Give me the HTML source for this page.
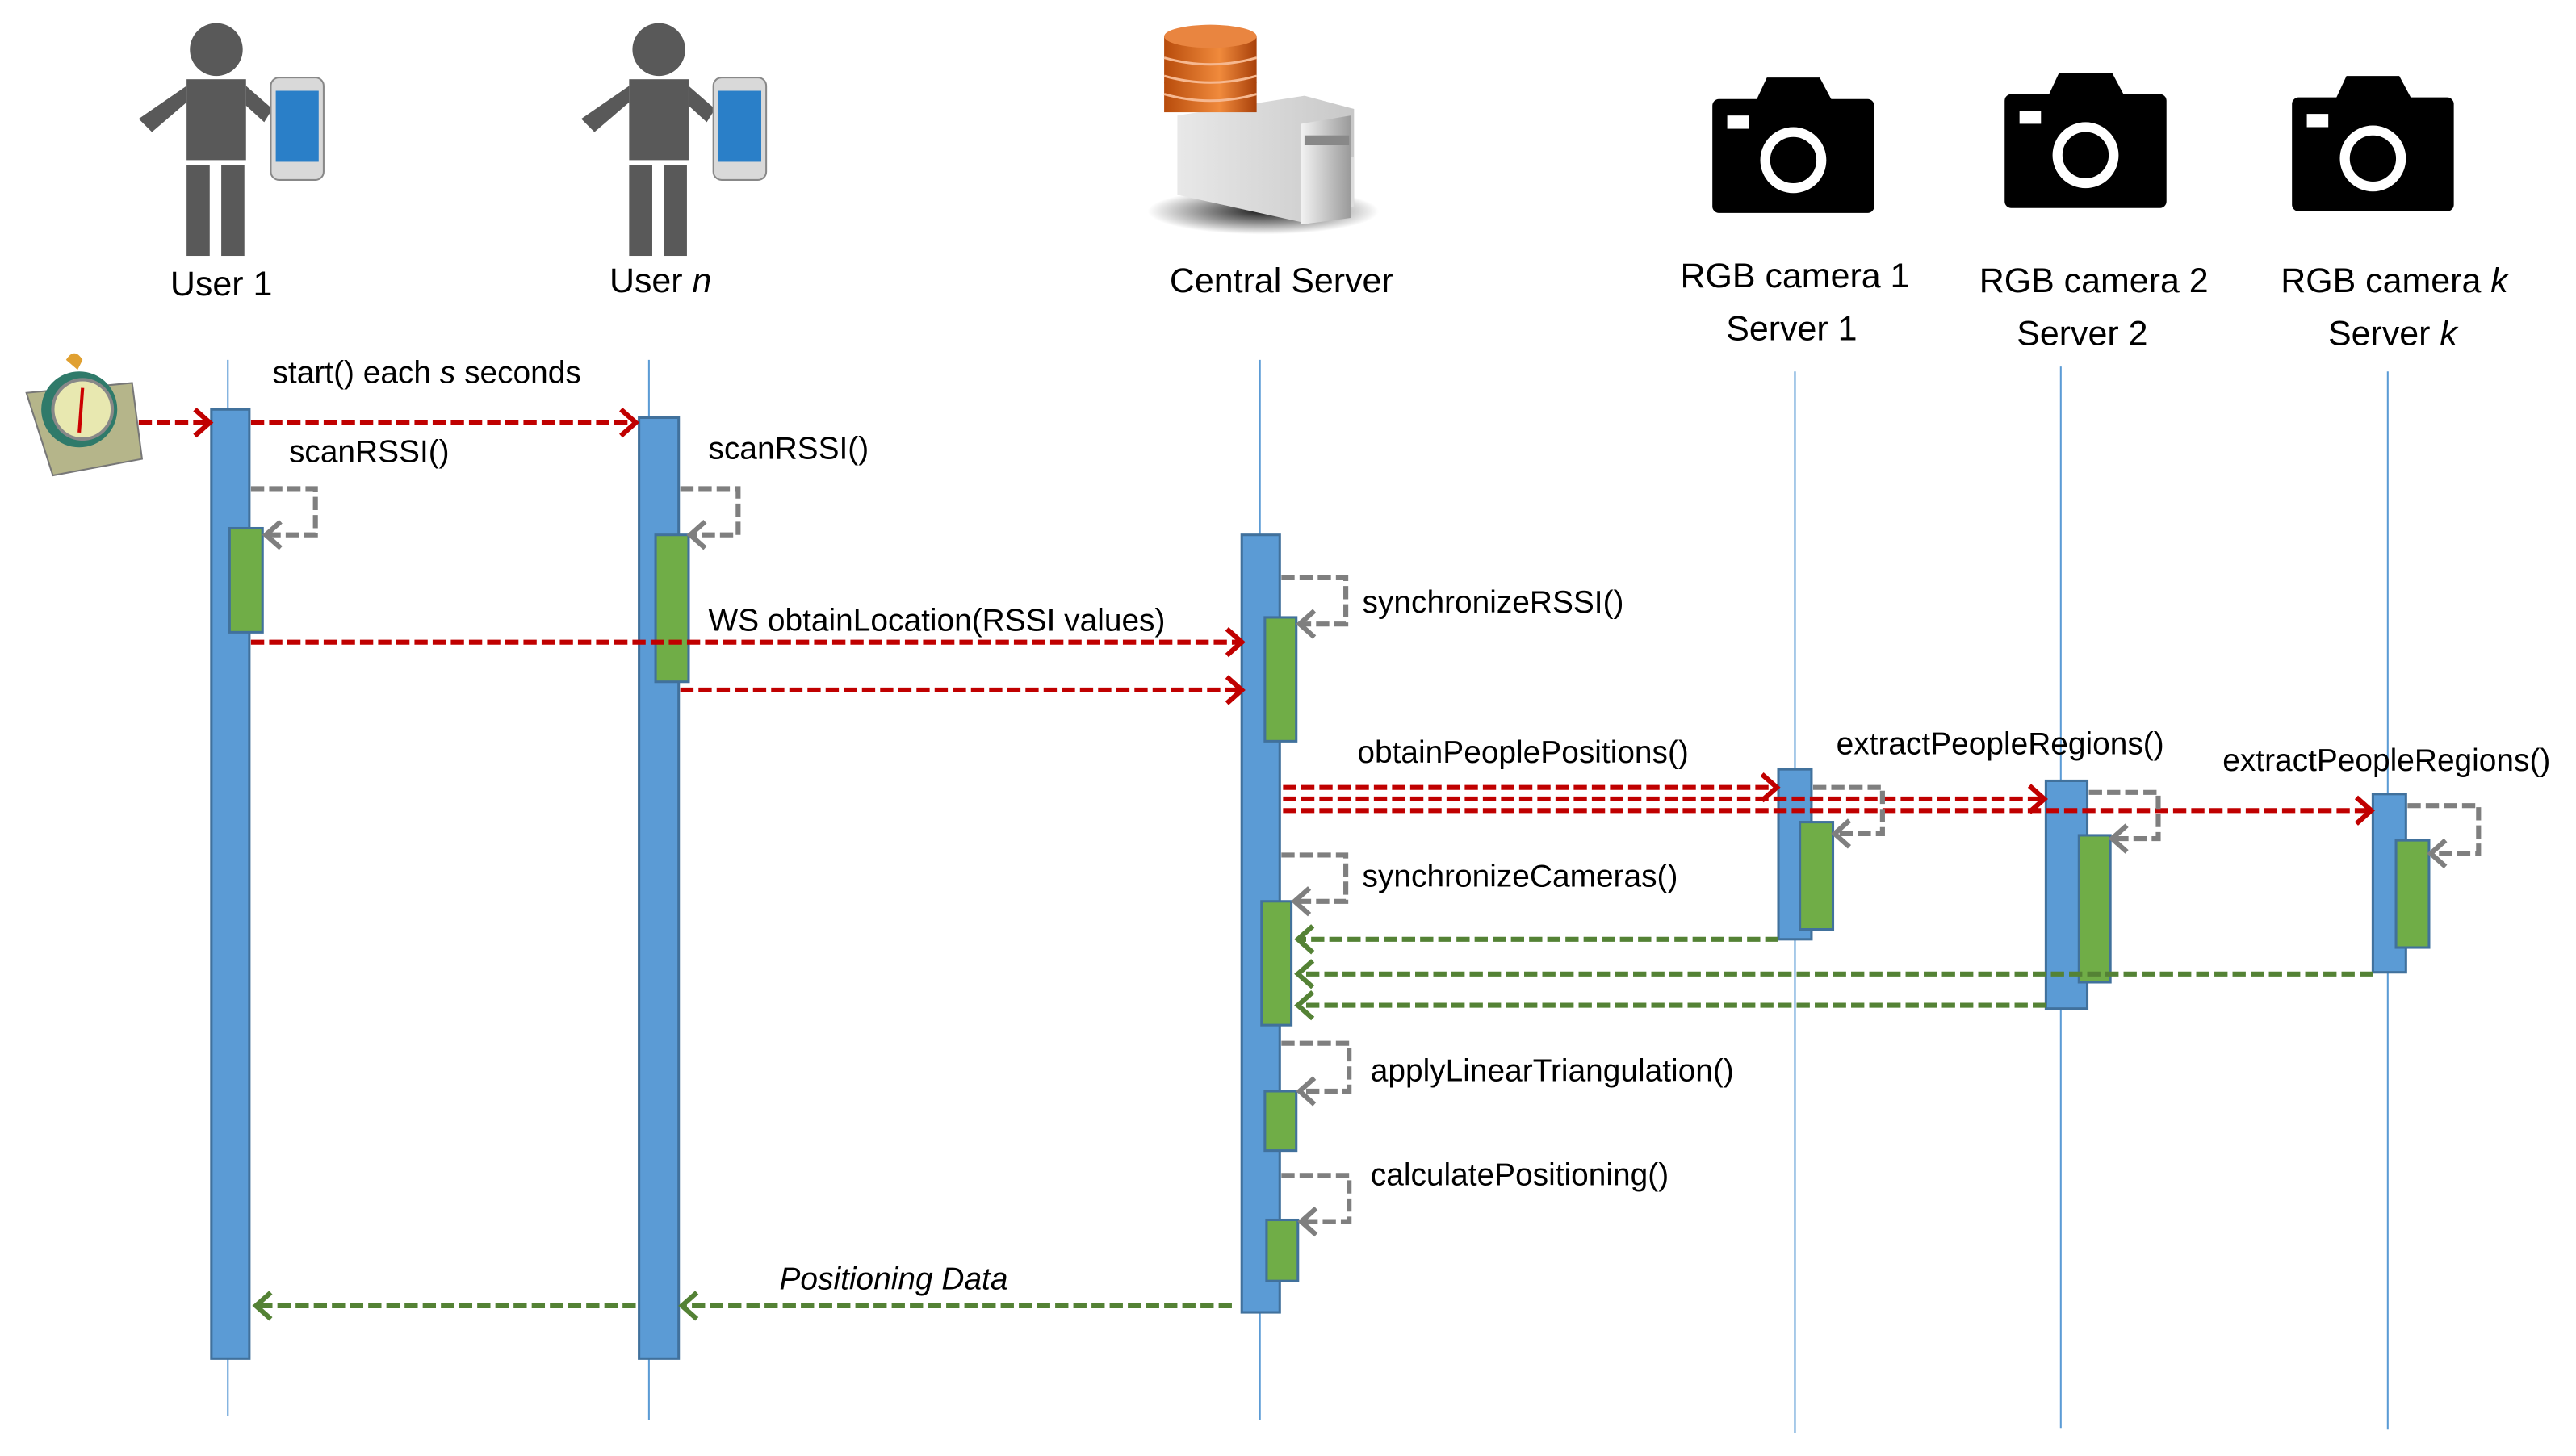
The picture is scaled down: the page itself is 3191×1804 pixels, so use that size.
<!DOCTYPE html>
<html><head><meta charset="utf-8"><style>
html,body{margin:0;padding:0;background:#fff;}
svg{display:block;}
text{font-family:"Liberation Sans",sans-serif;fill:#000;}
</style></head><body>
<svg width="3191" height="1804" viewBox="0 0 1560 882" preserveAspectRatio="none" xmlns="http://www.w3.org/2000/svg">
<defs>
<linearGradient id="srv" x1="0" y1="0" x2="1" y2="0"><stop offset="0" stop-color="#f2f2f2"/><stop offset="1" stop-color="#9a9a9a"/></linearGradient>
<linearGradient id="srv2" x1="0" y1="0" x2="1" y2="0"><stop offset="0" stop-color="#e8e8e8"/><stop offset="1" stop-color="#c8c8c8"/></linearGradient>
<linearGradient id="db" x1="0" y1="0" x2="1" y2="0"><stop offset="0" stop-color="#b84c0c"/><stop offset="0.6" stop-color="#f08a3c"/><stop offset="1" stop-color="#a8400a"/></linearGradient>
<radialGradient id="sh"><stop offset="0" stop-color="#000" stop-opacity="0.9"/><stop offset="1" stop-color="#000" stop-opacity="0"/></radialGradient>
</defs>

<!-- lifelines -->
<g stroke="#5b9bd5" stroke-width="1">
<line x1="138" y1="218" x2="138" y2="858"/>
<line x1="393" y1="218" x2="393" y2="860"/>
<line x1="763" y1="218" x2="763" y2="860"/>
<line x1="1087" y1="225" x2="1087" y2="868"/>
<line x1="1248" y1="222" x2="1248" y2="865"/>
<line x1="1446" y1="225" x2="1446" y2="866"/>
</g>

<!-- people -->
<g fill="#595959">
<circle cx="131" cy="30" r="16"/>
<rect x="113" y="48" width="36" height="49"/>
<rect x="113" y="100" width="14" height="55"/><rect x="134" y="100" width="14" height="55"/>
<polygon points="113,52 84,72 92,80 113,62"/><polygon points="149,52 165,66 160,74 149,64"/>
<circle cx="399" cy="30" r="16"/>
<rect x="381" y="48" width="36" height="49"/>
<rect x="381" y="100" width="14" height="55"/><rect x="402" y="100" width="14" height="55"/>
<polygon points="381,52 352,72 360,80 381,62"/><polygon points="417,52 433,66 428,74 417,64"/>
</g>
<g>
<rect x="164" y="47" width="32" height="62" rx="5" fill="#d9d9d9" stroke="#888"/>
<rect x="167" y="55" width="26" height="43" fill="#2a7fc8"/>
<rect x="432" y="47" width="32" height="62" rx="5" fill="#d9d9d9" stroke="#888"/>
<rect x="435" y="55" width="26" height="43" fill="#2a7fc8"/>
</g>

<!-- server -->
<ellipse cx="765" cy="128" rx="70" ry="14" fill="url(#sh)"/>
<polygon points="713,70 790,58 820,66 820,125 790,135 713,118" fill="url(#srv2)"/>
<polygon points="790,100 820,95 820,125 790,135" fill="#ddd"/>
<polygon points="788,75 818,70 818,132 788,136" fill="url(#srv)"/>
<rect x="793" y="60" width="0" height="0"/>
<rect x="790" y="82" width="27" height="6" fill="#888"/>
<ellipse cx="733" cy="50" rx="28" ry="7" fill="url(#db)"/>
<rect x="705" y="22" width="56" height="46" fill="url(#db)"/>
<ellipse cx="733" cy="22" rx="28" ry="7" fill="#e98540"/>
<g stroke="#f6b890" stroke-width="1.5" fill="none">
<path d="M705,35 Q733,43 761,35"/><path d="M705,46 Q733,54 761,46"/><path d="M705,57 Q733,65 761,57"/>
</g>

<!-- cameras -->
<g fill="#000">
<rect x="1037" y="60" width="98" height="69" rx="4"/><polygon points="1063,62 1070,47 1102,47 1110,62"/>
<rect x="1214" y="57" width="98" height="69" rx="4"/><polygon points="1240,59 1247,44 1279,44 1287,59"/>
<rect x="1388" y="59" width="98" height="69" rx="4"/><polygon points="1414,61 1421,46 1453,46 1461,61"/>
</g>
<g fill="none" stroke="#fff" stroke-width="6">
<circle cx="1086" cy="97" r="17"/><circle cx="1263" cy="94" r="17"/><circle cx="1437" cy="96" r="17"/>
</g>
<g fill="#fff"><rect x="1046" y="70" width="13" height="8"/><rect x="1223" y="67" width="13" height="8"/><rect x="1397" y="69" width="13" height="8"/></g>

<!-- clock -->
<polygon points="16,238 80,232 86,278 32,288" fill="#b5b58a" stroke="#777"/>
<circle cx="48" cy="248" r="23" fill="#2f7a6a"/>
<circle cx="50" cy="248" r="18" fill="#e8e8b0" stroke="#888" stroke-width="2"/>
<line x1="50" y1="235" x2="48" y2="262" stroke="#c00" stroke-width="2"/>
<path d="M40,218 q5,-8 10,0 l-3,6 z" fill="#e0a030"/>

<!-- headers -->
<g font-size="21" text-anchor="middle">
<text x="134" y="179">User 1</text>
<text x="400" y="177">User <tspan font-style="italic">n</tspan></text>
<text x="776" y="177">Central Server</text>
<text x="1087" y="174">RGB camera 1</text><text x="1085" y="206">Server 1</text>
<text x="1268" y="177">RGB camera 2</text><text x="1261" y="209">Server 2</text>
<text x="1450" y="177">RGB camera <tspan font-style="italic">k</tspan></text><text x="1449" y="209">Server <tspan font-style="italic">k</tspan></text>
</g>

<!-- activation bars -->
<g fill="#5b9bd5" stroke="#41719c" stroke-width="1.5">
<rect x="128" y="248" width="23" height="575"/>
<rect x="387" y="253" width="24" height="570"/>
<rect x="752" y="324" width="23" height="471"/>
<rect x="1077" y="466" width="20" height="103"/>
<rect x="1239" y="473" width="25" height="138"/>
<rect x="1437" y="481" width="20" height="108"/>
</g>
<g fill="#70ad47" stroke="#41719c" stroke-width="1.5">
<rect x="139" y="320" width="20" height="63"/>
<rect x="397" y="324" width="20" height="89"/>
<rect x="766" y="374" width="19" height="75"/>
<rect x="764" y="546" width="18" height="75"/>
<rect x="766" y="661" width="19" height="36"/>
<rect x="767" y="739" width="19" height="37"/>
<rect x="1090" y="498" width="20" height="65"/>
<rect x="1259" y="506" width="19" height="89"/>
<rect x="1451" y="509" width="20" height="65"/>
</g>

<!-- red calls -->
<g stroke="#c00000" stroke-width="3" stroke-dasharray="8 3" fill="none">
<line x1="84" y1="256" x2="126" y2="256"/>
<line x1="152" y1="256" x2="384" y2="256"/>
<line x1="152" y1="389" x2="751" y2="389"/>
<line x1="412" y1="418" x2="751" y2="418"/>
<line x1="777" y1="477" x2="1075" y2="477"/>
<line x1="777" y1="484" x2="1237" y2="484"/>
<line x1="777" y1="491" x2="1435" y2="491"/>
</g>
<g stroke="#c00000" stroke-width="3" fill="none">
<polyline points="118,248 127,256 118,264"/>
<polyline points="376,248 385,256 376,264"/>
<polyline points="743,381 752,389 743,397"/>
<polyline points="743,410 752,418 743,426"/>
<polyline points="1067,469 1076,477 1067,485"/>
<polyline points="1229,476 1238,484 1229,492"/>
<polyline points="1427,483 1436,491 1427,499"/>
</g>

<!-- green returns -->
<g stroke="#548235" stroke-width="3" stroke-dasharray="8 3" fill="none">
<line x1="1077" y1="569" x2="787" y2="569"/>
<line x1="1437" y1="590" x2="787" y2="590"/>
<line x1="1239" y1="609" x2="787" y2="609"/>
<line x1="746" y1="791" x2="414" y2="791"/>
<line x1="385" y1="791" x2="156" y2="791"/>
</g>
<g stroke="#548235" stroke-width="3" fill="none">
<polyline points="795,561 786,569 795,577"/>
<polyline points="795,582 786,590 795,598"/>
<polyline points="795,601 786,609 795,617"/>
<polyline points="422,783 413,791 422,799"/>
<polyline points="164,783 155,791 164,799"/>
</g>

<!-- self loops -->
<g stroke="#7f7f7f" stroke-width="3" stroke-dasharray="8 3" fill="none">
<polyline points="152,296 191,296 191,324 162,324"/>
<polyline points="412,296 447,296 447,324 419,324"/>
<polyline points="776,350 815,350 815,378 788,378"/>
<polyline points="776,518 815,518 815,546 785,546"/>
<polyline points="776,632 817,632 817,661 788,661"/>
<polyline points="776,712 817,712 817,740 789,740"/>
<polyline points="1098,477 1140,477 1140,505 1112,505"/>
<polyline points="1265,480 1307,480 1307,508 1280,508"/>
<polyline points="1458,488 1501,488 1501,517 1473,517"/>
</g>
<g stroke="#7f7f7f" stroke-width="3" fill="none">
<polyline points="170,316 161,324 170,332"/>
<polyline points="427,316 418,324 427,332"/>
<polyline points="796,370 787,378 796,386"/>
<polyline points="793,538 784,546 793,554"/>
<polyline points="796,653 787,661 796,669"/>
<polyline points="797,732 788,740 797,748"/>
<polyline points="1120,497 1111,505 1120,513"/>
<polyline points="1288,500 1279,508 1288,516"/>
<polyline points="1481,509 1472,517 1481,525"/>
</g>

<!-- labels -->
<g font-size="19">
<text x="165" y="232">start() each <tspan font-style="italic">s</tspan> seconds</text>
<text x="175" y="280">scanRSSI()</text>
<text x="429" y="278">scanRSSI()</text>
<text x="429" y="382">WS obtainLocation(RSSI values)</text>
<text x="825" y="371">synchronizeRSSI()</text>
<text x="822" y="462">obtainPeoplePositions()</text>
<text x="1112" y="457">extractPeopleRegions()</text>
<text x="1346" y="467">extractPeopleRegions()</text>
<text x="825" y="537">synchronizeCameras()</text>
<text x="830" y="655">applyLinearTriangulation()</text>
<text x="830" y="718">calculatePositioning()</text>
<text x="472" y="781" font-style="italic">Positioning Data</text>
</g>
</svg>
</body></html>
